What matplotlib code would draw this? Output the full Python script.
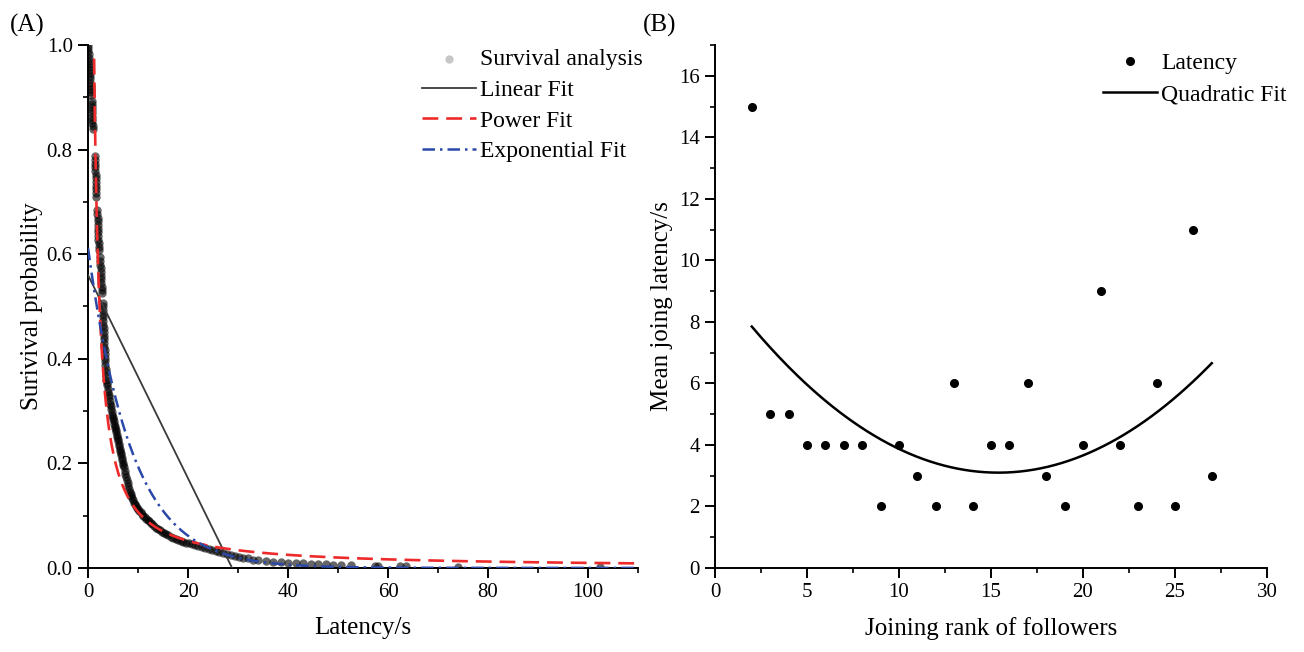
import matplotlib
matplotlib.use('Agg')
import matplotlib.pyplot as plt
from matplotlib import rcParams
from matplotlib.ticker import MultipleLocator
import numpy as np

rcParams['font.family'] = 'serif'
rcParams['font.serif'] = ['Liberation Serif', 'DejaVu Serif']
rcParams['axes.linewidth'] = 1.4
rcParams['xtick.major.width'] = 1.4
rcParams['ytick.major.width'] = 1.4
rcParams['xtick.minor.width'] = 1.2
rcParams['ytick.minor.width'] = 1.2
rcParams['xtick.major.size'] = 7
rcParams['ytick.major.size'] = 7
rcParams['xtick.minor.size'] = 3.5
rcParams['ytick.minor.size'] = 3.5
rcParams['xtick.labelsize'] = 15
rcParams['ytick.labelsize'] = 15

# (A) survival analysis points: latency (s) vs survival probability
surv_x = [0.0, 0.04, 0.08, 0.12, 0.16, 0.2, 0.24, 0.28, 0.32, 0.36, 0.4, 0.44, 0.48, 0.52, 0.56, 0.6, 0.64,
          0.75, 0.77, 0.79, 0.81, 0.83, 0.85, 0.87, 0.89, 0.91, 0.93,
          1.35, 1.38, 1.41, 1.44, 1.47, 1.5, 1.53, 1.56, 1.59, 1.62, 1.65, 1.68,
          1.85, 1.88, 1.91, 1.94, 1.97, 2.0, 2.03, 2.06, 2.09, 2.12, 2.15, 2.18,
          2.4, 2.44, 2.48, 2.52, 2.56, 2.6, 2.64, 2.68, 2.72, 2.76, 2.8,
          2.9, 2.93, 2.96, 2.99, 3.02, 3.05, 3.08, 3.11, 3.14, 3.17, 3.2, 3.24, 3.28, 3.32, 3.36, 3.4,
          3.44, 3.48, 3.52, 3.56, 3.6, 3.65,
          3.75, 3.85, 3.95, 4.05, 4.15, 4.25, 4.35, 4.45, 4.55, 4.65, 4.75, 4.85, 4.95, 5.05, 5.15,
          5.25, 5.35, 5.45, 5.55, 5.65, 5.75, 5.85, 5.95, 6.05, 6.15, 6.25, 6.35, 6.45, 6.55, 6.65,
          6.75, 6.85, 6.95, 7.05, 7.15, 7.3, 7.45, 7.6, 7.75, 7.9, 8.05, 8.2, 8.35, 8.5, 8.65, 8.8,
          9.0, 9.2, 9.4, 9.6, 9.8, 10.0, 10.25, 10.5, 10.75, 11.0, 11.3, 11.6, 11.9, 12.2, 12.5, 12.8,
          13.2, 13.6, 14.0, 14.4, 14.8, 15.2, 15.6, 16.0, 16.5, 17.0, 17.5, 18.0, 18.5, 19.0, 19.6,
          20.2, 20.8, 21.4, 22.0, 22.7, 23.4, 24.1, 24.8, 25.5, 26.2, 27.0, 27.8, 28.6, 29.4, 30.2,
          31.0, 32.0, 33.0, 34.0,
          35.5, 37.0, 38.5, 40.0, 41.5, 43.0, 44.5, 46.0, 47.5, 49.0, 50.5, 52.5, 57.3, 58.0, 62.3,
          63.5, 74.0, 102.3]
surv_y = [1.0, 0.994, 0.988, 0.982, 0.976, 0.970, 0.964, 0.958, 0.952, 0.946, 0.940, 0.934, 0.928, 0.922, 0.916, 0.910, 0.904,
          0.893, 0.887, 0.881, 0.875, 0.869, 0.863, 0.857, 0.851, 0.845, 0.839,
          0.787, 0.780, 0.773, 0.766, 0.759, 0.752, 0.745, 0.738, 0.731, 0.724, 0.717, 0.710,
          0.684, 0.677, 0.670, 0.663, 0.656, 0.649, 0.642, 0.635, 0.628, 0.621, 0.614, 0.608,
          0.594, 0.587, 0.580, 0.573, 0.566, 0.559, 0.552, 0.545, 0.538, 0.531, 0.526,
          0.507, 0.500, 0.493, 0.486, 0.479, 0.472, 0.465, 0.458, 0.451, 0.444, 0.437, 0.430, 0.423, 0.416, 0.409, 0.402,
          0.395, 0.388, 0.381, 0.374, 0.367, 0.360,
          0.354, 0.349, 0.343, 0.337, 0.331, 0.326, 0.320, 0.314, 0.309, 0.303, 0.298, 0.293, 0.289, 0.284, 0.280,
          0.276, 0.272, 0.267, 0.263, 0.259, 0.254, 0.250, 0.246, 0.242, 0.237, 0.233, 0.228, 0.224, 0.219, 0.215,
          0.210, 0.206, 0.201, 0.197, 0.192, 0.186, 0.180, 0.174, 0.168, 0.162, 0.157, 0.151, 0.146, 0.141, 0.137, 0.133,
          0.129, 0.125, 0.122, 0.118, 0.115, 0.112, 0.109, 0.106, 0.103, 0.100, 0.097, 0.094, 0.091, 0.089, 0.086, 0.083,
          0.080, 0.077, 0.074, 0.072, 0.069, 0.067, 0.064, 0.062, 0.060, 0.058, 0.056, 0.054, 0.052, 0.050, 0.048,
          0.047, 0.045, 0.043, 0.042, 0.040, 0.038, 0.036, 0.034, 0.032, 0.030, 0.028, 0.026, 0.025, 0.023, 0.021,
          0.019, 0.018, 0.016, 0.015,
          0.013, 0.012, 0.011, 0.010, 0.010, 0.009, 0.008, 0.008, 0.007, 0.006, 0.006, 0.005, 0.004, 0.004, 0.003,
          0.003, 0.002, 0.001]

# fitted models
linear_b0, linear_b1 = 0.56, -0.01944      # y = b0 + b1 * x
power_a, power_b = 1.2, -1.05              # y = a * x ** b
exp_a, exp_t = 0.612, 8.7                  # y = a * exp(-x / t)

# (B) joining rank vs mean latency
rank = [2, 3, 4, 5, 6, 7, 8, 9, 10, 11, 12, 13, 14, 15, 16, 17, 18, 19, 20, 21, 22, 23, 24, 25, 26, 27]
mean_latency = [15, 5, 5, 4, 4, 4, 4, 2, 4, 3, 2, 6, 2, 4, 4, 6, 3, 2, 4, 9, 4, 2, 6, 2, 11, 3]
quad_coef = [0.02645, -0.8147, 9.37]       # quadratic fit, highest power first

fig = plt.figure(figsize=(13.04, 6.52), dpi=100)
axA = fig.add_axes([0.0675, 0.129, 0.4218, 0.802])
axB = fig.add_axes([0.5483, 0.129, 0.4233, 0.802])

# ---- panel A
axA.scatter(surv_x, surv_y, s=36, color='k', alpha=0.6, linewidths=0,
            zorder=1, label='Survival analysis')
xl = np.linspace(0, -linear_b0 / linear_b1, 50)
axA.plot(xl, linear_b0 + linear_b1 * xl, color='#3a3a3a', lw=1.3, zorder=3, label='Linear Fit')
xp = np.linspace(1.22, 110, 800)
axA.plot(xp, power_a * xp ** power_b, color='#ee2a2a', lw=1.9, ls=(0, (6, 3)),
         zorder=3, label='Power Fit')
xe = np.linspace(0, 110, 800)
axA.plot(xe, exp_a * np.exp(-xe / exp_t), color='#2b48a8', lw=1.8, ls=(0, (5, 2, 1, 2)),
         zorder=3, label='Exponential Fit')

axA.set_xlim(0, 110)
axA.set_ylim(0, 1.0)
axA.xaxis.set_major_locator(MultipleLocator(20))
axA.xaxis.set_minor_locator(MultipleLocator(10))
axA.yaxis.set_major_locator(MultipleLocator(0.2))
axA.yaxis.set_minor_locator(MultipleLocator(0.1))
axA.yaxis.set_major_formatter(matplotlib.ticker.FormatStrFormatter('%.1f'))
axA.set_xlabel('Latency/s', fontsize=18)
axA.set_ylabel('Surivival probability', fontsize=18)
axA.xaxis.set_label_coords(0.5, -0.094)
axA.yaxis.set_label_coords(-0.081, 0.5)
legA = axA.legend(loc='upper left', bbox_to_anchor=(0.607, 0.993), frameon=False, fontsize=17,
                  handlelength=2.3, handletextpad=0.15, labelspacing=0.39, borderpad=0,
                  borderaxespad=0, scatterpoints=1)
legA.legend_handles[0].set_alpha(0.22)

# ---- panel B
axB.plot(rank, mean_latency, 'o', color='k', ms=5.5, zorder=3, label='Latency')
xq = np.linspace(rank[0], rank[-1], 200)
axB.plot(xq, np.polyval(quad_coef, xq), color='k', lw=1.8, zorder=2, label='Quadratic Fit')
axB.set_xlim(0, 30)
axB.set_ylim(0, 17)
axB.xaxis.set_major_locator(MultipleLocator(5))
axB.xaxis.set_minor_locator(MultipleLocator(2.5))
axB.yaxis.set_major_locator(MultipleLocator(2))
axB.yaxis.set_minor_locator(MultipleLocator(1))
axB.set_xlabel('Joining rank of followers', fontsize=18)
axB.set_ylabel('Mean joing latency/s', fontsize=18)
axB.xaxis.set_label_coords(0.5, -0.094)
axB.yaxis.set_label_coords(-0.076, 0.5)
axB.legend(loc='upper left', bbox_to_anchor=(0.703, 0.985), frameon=False, fontsize=17,
           handlelength=2.3, handletextpad=0.15, labelspacing=0.39, borderpad=0,
           borderaxespad=0)

for ax in (axA, axB):
    ax.spines['top'].set_visible(False)
    ax.spines['right'].set_visible(False)
    ax.tick_params(which='both', direction='out', pad=4)

fig.text(10 / 1304, 1 - 25 / 652, '(A)', fontsize=18, va='center', ha='left')
fig.text(643 / 1304, 1 - 25 / 652, '(B)', fontsize=18, va='center', ha='left')

fig.savefig('out.png', dpi=100, facecolor='white')
